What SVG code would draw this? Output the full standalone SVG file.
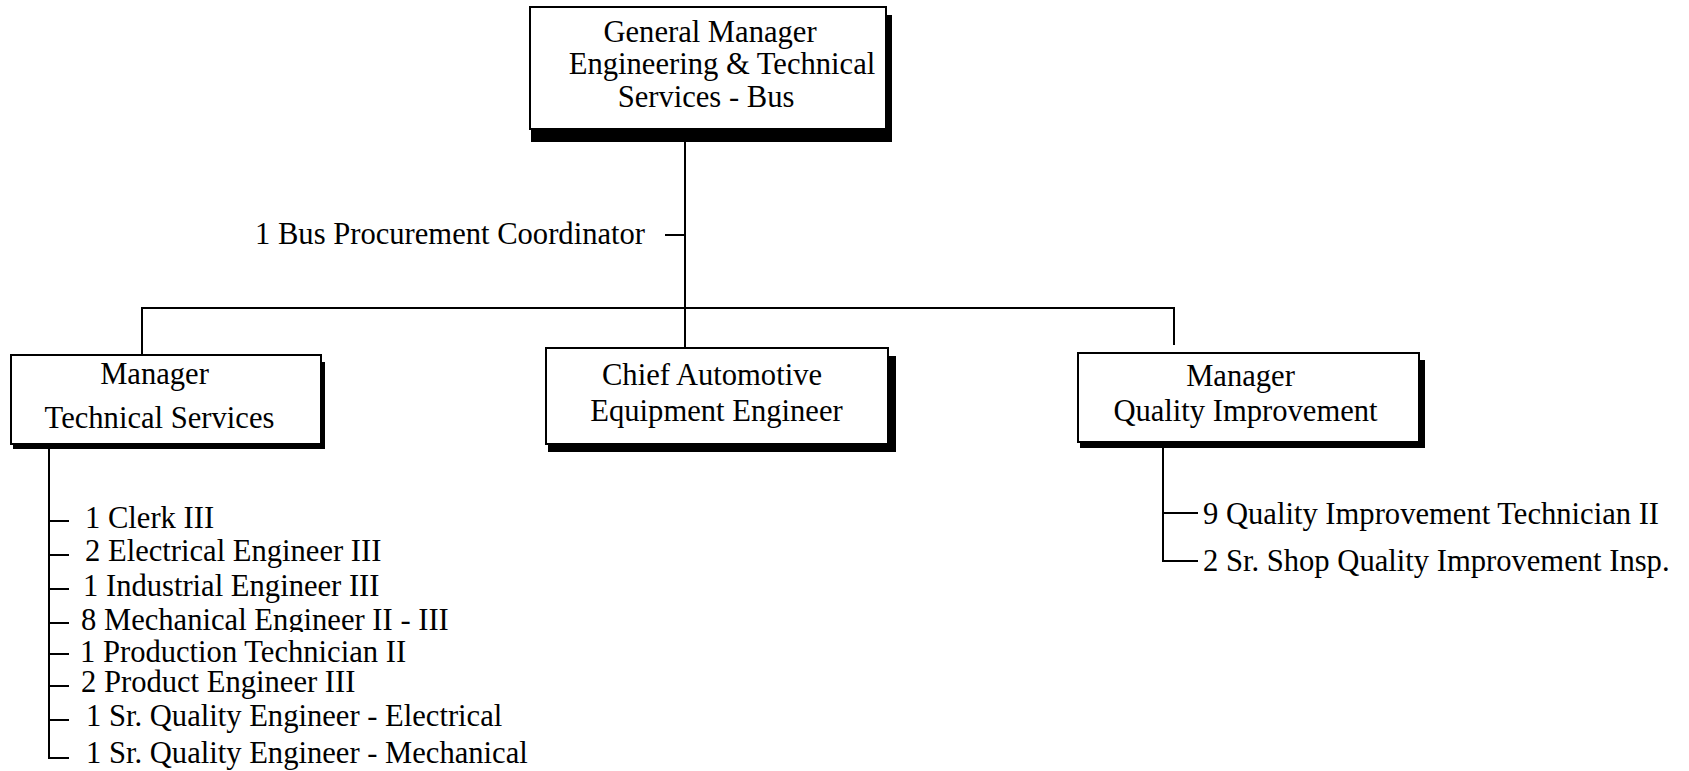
<svg xmlns="http://www.w3.org/2000/svg" width="1689" height="771" viewBox="0 0 1689 771">
<style>
text{font-family:"Liberation Serif","Times New Roman",serif;font-size:30.6px;fill:#000}
.box{fill:#fff;stroke:#000;stroke-width:2}
.sh{fill:#000}
.c text{text-anchor:middle}
.ln{stroke:#000;stroke-width:2;fill:none}
</style>
<defs>
<clipPath id="clipMech"><rect x="0" y="590" width="600" height="42"/></clipPath>
</defs>
<rect width="1689" height="771" fill="#fff"/>
<g id="connectors">
<path class="ln" d="M685,129 V347"/>
<path class="ln" d="M665,235 H685"/>
<path class="ln" d="M142,355 V308 H1174 V345"/>
<path class="ln" d="M49,446 V758 H69"/>
<path class="ln" d="M49,521 H69 M49,555 H69 M49,589 H69 M49,623 H69 M49,654 H69 M49,686 H69 M49,720 H69"/>
<path class="ln" d="M1163,446 V561 H1198 M1163,513 H1198"/>
</g>
<g id="gm" class="c">
<rect class="sh" x="531" y="15" width="361" height="127"/>
<rect class="box" x="530" y="7" width="356" height="122"/>
<text x="710" y="42">General Manager</text>
<text x="722" y="74">Engineering &amp; Technical</text>
<text x="706" y="107">Services - Bus</text>
</g>
<g id="mts" class="c">
<rect class="sh" x="13" y="362" width="312" height="87"/>
<rect class="box" x="11" y="355" width="310" height="89"/>
<text x="154.5" y="384">Manager</text>
<text x="159.5" y="428">Technical Services</text>
</g>
<g id="chief" class="c">
<rect class="sh" x="548" y="356" width="348" height="96"/>
<rect class="box" x="546" y="348" width="342" height="96"/>
<text x="712" y="385">Chief Automotive</text>
<text x="716.5" y="421">Equipment Engineer</text>
</g>
<g id="mqi" class="c">
<rect class="sh" x="1080" y="360" width="345" height="88"/>
<rect class="box" x="1078" y="353" width="341" height="89"/>
<text x="1240.5" y="386">Manager</text>
<text x="1245.5" y="421">Quality Improvement</text>
</g>
<g id="bpc"><text x="255" y="244">1 Bus Procurement Coordinator</text></g>
<g id="ts-staff">
<text x="85" y="528">1 Clerk III</text>
<text x="85" y="561">2 Electrical Engineer III</text>
<text x="83" y="596">1 Industrial Engineer III</text>
<text x="81" y="630" clip-path="url(#clipMech)">8 Mechanical Engineer II - III</text>
<text x="80" y="662">1 Production Technician II</text>
<text x="81" y="692">2 Product Engineer III</text>
<text x="86" y="726">1 Sr. Quality Engineer - Electrical</text>
<text x="86" y="763">1 Sr. Quality Engineer - Mechanical</text>
</g>
<g id="qi-staff">
<text x="1203" y="524">9 Quality Improvement Technician II</text>
<text x="1203" y="571">2 Sr. Shop Quality Improvement Insp.</text>
</g>
</svg>
